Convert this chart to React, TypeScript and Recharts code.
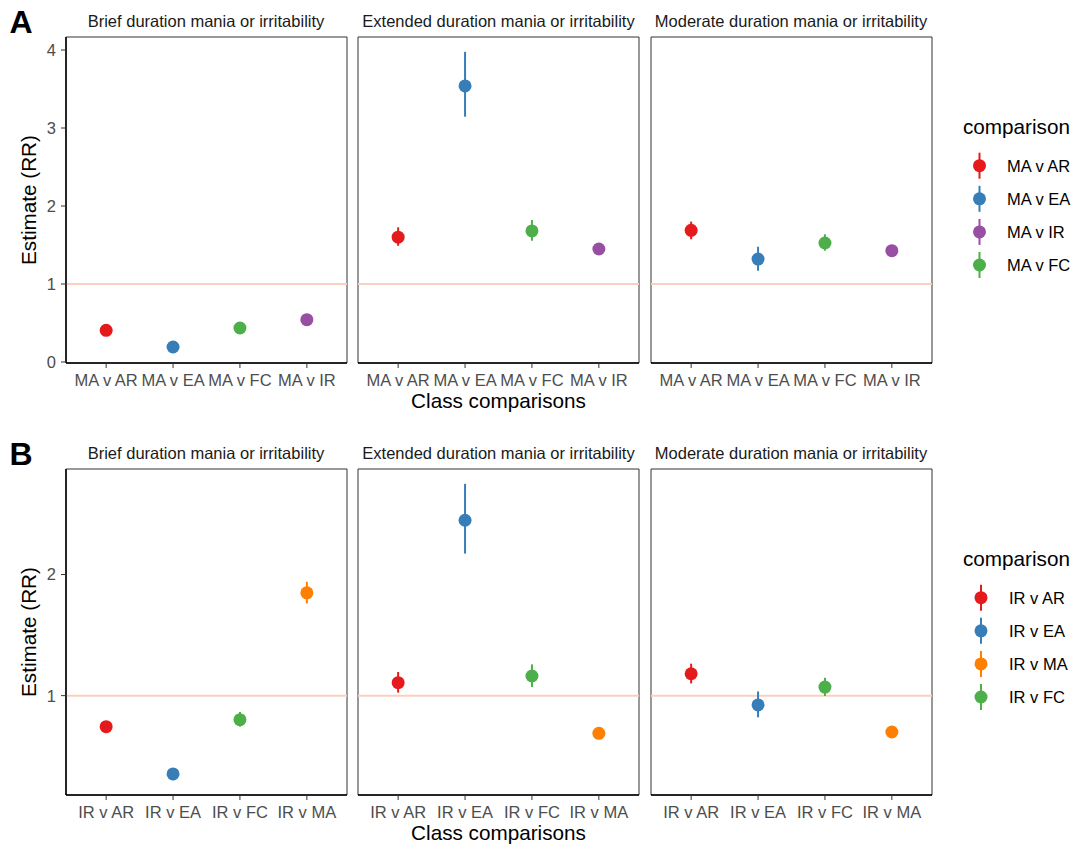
import React from "react";
import {
  ScatterChart,
  Scatter,
  XAxis,
  YAxis,
  ErrorBar,
  ReferenceLine,
  ReferenceArea,
} from "recharts";

const FONT = '"Liberation Sans", Arial, Helvetica, sans-serif';

const panelTitles = [
  "Brief duration mania or irritability",
  "Extended duration mania or irritability",
  "Moderate duration mania or irritability",
];

// A: mania/irritability class against the other classes
const maLabels = ["MA v AR", "MA v EA", "MA v FC", "MA v IR"];
const maColors = ["#E41A1C", "#377EB8", "#4DAF4A", "#984EA3"];
const maLegendOrder = [0, 1, 3, 2];
const maEstimate = [
  [0.406, 0.192, 0.436, 0.542],
  [1.6, 3.54, 1.68, 1.449],
  [1.688, 1.32, 1.526, 1.427],
];
const maLower = [
  [0.37, 0.177, 0.4, 0.5],
  [1.49, 3.145, 1.555, 1.41],
  [1.573, 1.17, 1.427, 1.39],
];
const maUpper = [
  [0.44, 0.21, 0.47, 0.58],
  [1.727, 3.977, 1.82, 1.49],
  [1.8, 1.478, 1.637, 1.47],
];
const maTicks = [0, 1, 2, 3, 4];

// B: irritability class against the other classes
const irLabels = ["IR v AR", "IR v EA", "IR v FC", "IR v MA"];
const irColors = ["#E41A1C", "#377EB8", "#4DAF4A", "#FF7F00"];
const irLegendOrder = [0, 1, 3, 2];
const irEstimate = [
  [0.744, 0.354, 0.802, 1.849],
  [1.107, 2.448, 1.162, 0.689],
  [1.181, 0.923, 1.071, 0.7],
];
const irLower = [
  [0.71, 0.302, 0.745, 1.761],
  [1.025, 2.173, 1.071, 0.66],
  [1.101, 0.821, 0.997, 0.67],
];
const irUpper = [
  [0.78, 0.39, 0.865, 1.94],
  [1.195, 2.749, 1.258, 0.72],
  [1.264, 1.035, 1.148, 0.73],
];
const irTicks = [1, 2];

const PLOT_W = 281;
const PLOT_H = 326;
const AXIS_W = 45;
const PAD_TOP = 2;
const X_AXIS_H = 32;
const panelLeft = [65.5, 358, 650.5];

// ggplot-style 5% expansion around the range of the intervals
function expand(lo: number[][], hi: number[][]): [number, number] {
  const min = Math.min(...lo.flat());
  const max = Math.max(...hi.flat());
  const pad = (max - min) * 0.05;
  return [min - pad, max + pad];
}

function FacetPanel({ x, y, labels, colors, est, lo, hi, domain, ticks, showY }: any) {
  return (
    <div style={{ position: "absolute", left: x - AXIS_W, top: y - PAD_TOP }}>
      <ScatterChart
        width={AXIS_W + PLOT_W + 4}
        height={PAD_TOP + PLOT_H + X_AXIS_H}
        margin={{ top: PAD_TOP, right: 4, bottom: 0, left: 0 }}
      >
        <ReferenceArea
          x1={0.4}
          x2={4.6}
          y1={domain[0]}
          y2={domain[1]}
          fill="none"
          stroke="#333333"
          strokeWidth={1}
        />
        <ReferenceLine y={1} stroke="#FBCFC0" strokeWidth={2} />
        <XAxis
          type="number"
          dataKey="x"
          domain={[0.4, 4.6]}
          ticks={[1, 2, 3, 4]}
          interval={0}
          allowDataOverflow
          tickFormatter={(v: number) => labels[v - 1]}
          height={X_AXIS_H}
          tickSize={5}
          tickMargin={6}
          axisLine={{ stroke: "#000", strokeWidth: 1.5 }}
          tickLine={{ stroke: "#333" }}
          tick={{ fill: "#4D4D4D", fontSize: 16.5 }}
        />
        {showY ? (
          <YAxis
            type="number"
            dataKey="y"
            domain={domain}
            ticks={ticks}
            allowDataOverflow
            width={AXIS_W}
            tickSize={5}
            tickMargin={5}
            axisLine={{ stroke: "#000", strokeWidth: 1.5 }}
            tickLine={{ stroke: "#333" }}
            tick={{ fill: "#4D4D4D", fontSize: 16.5 }}
          />
        ) : (
          <YAxis
            type="number"
            dataKey="y"
            domain={domain}
            allowDataOverflow
            width={AXIS_W}
            tick={false}
            tickLine={false}
            axisLine={false}
          />
        )}
        {labels.map((label: string, i: number) => (
          <Scatter
            key={label}
            name={label}
            data={[{ x: i + 1, y: est[i], err: [est[i] - lo[i], hi[i] - est[i]] }]}
            fill={colors[i]}
            isAnimationActive={false}
            shape={(p: any) => <circle cx={p.cx} cy={p.cy} r={6.5} fill={colors[i]} />}
          >
            <ErrorBar dataKey="err" direction="y" width={0} stroke={colors[i]} strokeWidth={2} />
          </Scatter>
        ))}
      </ScatterChart>
    </div>
  );
}

function FacetRow({ top, letter, labels, colors, legendOrder, est, lo, hi, ticks, keyX, textX }: any) {
  const domain = expand(lo, hi);
  return (
    <>
      {panelLeft.map((px, p) => (
        <FacetPanel
          key={p}
          x={px}
          y={top}
          labels={labels}
          colors={colors}
          est={est[p]}
          lo={lo[p]}
          hi={hi[p]}
          domain={domain}
          ticks={ticks}
          showY={p === 0}
        />
      ))}
      <svg
        width={1077}
        height={430}
        style={{ position: "absolute", left: 0, top: top - 37, pointerEvents: "none" }}
      >
        <text x={9.5} y={33.3} fontSize={32} fontWeight="bold" fill="#000">
          {letter}
        </text>
        {panelLeft.map((px, p) => (
          <text key={p} x={px + PLOT_W / 2} y={26.5} fontSize={16.5} fill="#1A1A1A" textAnchor="middle">
            {panelTitles[p]}
          </text>
        ))}
        <text
          transform="translate(36,200) rotate(-90)"
          fontSize={20.7}
          fill="#000"
          textAnchor="middle"
        >
          Estimate (RR)
        </text>
        <text x={498.5} y={408} fontSize={20.7} fill="#000" textAnchor="middle">
          Class comparisons
        </text>
        <text x={963} y={134} fontSize={20.7} fill="#000">
          comparison
        </text>
        {legendOrder.map((idx: number, k: number) => {
          const cy = 165.7 + k * 33.1;
          return (
            <g key={idx}>
              <line x1={keyX} x2={keyX} y1={cy - 13} y2={cy + 13} stroke={colors[idx]} strokeWidth={2} />
              <circle cx={keyX} cy={cy} r={6.5} fill={colors[idx]} />
              <text x={textX} y={cy + 5.8} fontSize={16.5} fill="#000">
                {labels[idx]}
              </text>
            </g>
          );
        })}
      </svg>
    </>
  );
}

export default function App() {
  return (
    <div
      style={{
        position: "absolute",
        left: 0,
        top: 0,
        width: 1077,
        height: 849,
        background: "#fff",
        fontFamily: FONT,
        overflow: "hidden",
      }}
    >
      <FacetRow
        top={37.3}
        letter="A"
        labels={maLabels}
        colors={maColors}
        legendOrder={maLegendOrder}
        est={maEstimate}
        lo={maLower}
        hi={maUpper}
        ticks={maTicks}
        keyX={979.5}
        textX={1007}
      />
      <FacetRow
        top={469.3}
        letter="B"
        labels={irLabels}
        colors={irColors}
        legendOrder={irLegendOrder}
        est={irEstimate}
        lo={irLower}
        hi={irUpper}
        ticks={irTicks}
        keyX={981}
        textX={1009}
      />
    </div>
  );
}
